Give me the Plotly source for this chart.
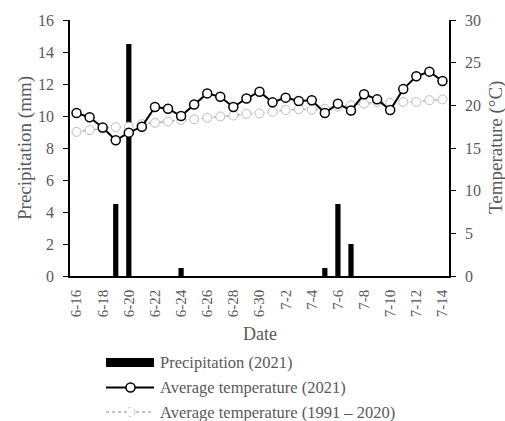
import plotly.graph_objects as go

dates = [f"6-{d}" for d in range(16, 31)] + [f"7-{d}" for d in range(1, 15)]
precip_2021 = [0, 0, 0, 4.5, 14.5, 0, 0, 0, 0.5, 0, 0, 0, 0, 0, 0,
               0, 0, 0, 0, 0.5, 4.5, 2.0, 0, 0, 0, 0, 0, 0, 0]
temp_2021 = [19.1, 18.6, 17.4, 15.9, 16.8, 17.5, 19.8, 19.6, 18.75, 20.1,
             21.4, 21.0, 19.8, 20.8, 21.6, 20.35, 20.9, 20.5, 20.6, 19.1,
             20.2, 19.4, 21.3, 20.7, 19.45, 21.9, 23.4, 23.95, 22.85]
temp_normal = [16.9, 17.1, 17.25, 17.45, 17.5, 17.8, 17.95, 18.1, 18.3, 18.35,
               18.55, 18.7, 18.8, 19.0, 19.05, 19.25, 19.45, 19.55, 19.5, 19.6,
               19.85, 20.0, 20.2, 20.4, 20.3, 20.4, 20.4, 20.6, 20.7]
tick_labels = dates[::2]
legend_labels = ["Precipitation (2021)", "Average temperature (2021)",
                 "Average temperature (1991 \u2013 2020)"]

FONT = "Liberation Serif"
GREY = "#595959"
W, H = 505, 421
L, R, T, B = 70, 56, 20, 145
PW, PH = W - L - R, H - T - B


def px(x):
    return (x - L) / PW


def py(y):
    return (H - B - y) / PH


fig = go.Figure()
fig.add_trace(go.Bar(x=dates, y=precip_2021, width=0.4, marker_color="black",
                     marker_line_width=0, name=legend_labels[0], showlegend=False))
fig.add_trace(go.Scatter(x=dates, y=temp_normal, yaxis="y2", mode="lines+markers",
                         line=dict(color="#b3b3b3", width=1.5, dash="dot"),
                         marker=dict(symbol="circle", size=9, color="white",
                                     line=dict(color="#bdbdbd", width=1)),
                         name=legend_labels[2], showlegend=False))
fig.add_trace(go.Scatter(x=dates, y=temp_2021, yaxis="y2", mode="lines+markers",
                         line=dict(color="black", width=2),
                         marker=dict(symbol="circle", size=9, color="white",
                                     line=dict(color="black", width=1.5)),
                         name=legend_labels[1], showlegend=False))

# manual legend
shapes = []
annotations = []
rows = [362.5, 387.5, 412]
shapes.append(dict(type="rect", xref="paper", yref="paper", x0=px(106), x1=px(154),
                   y0=py(367), y1=py(358), fillcolor="black", line_width=0))
shapes.append(dict(type="line", xref="paper", yref="paper", x0=px(106), x1=px(154),
                   y0=py(rows[1]), y1=py(rows[1]), line=dict(color="black", width=2)))
shapes.append(dict(type="circle", xref="paper", yref="paper", x0=px(126), x1=px(135),
                   y0=py(rows[1] + 4.5), y1=py(rows[1] - 4.5), fillcolor="white",
                   line=dict(color="black", width=1.5)))
shapes.append(dict(type="line", xref="paper", yref="paper", x0=px(106), x1=px(154),
                   y0=py(rows[2]), y1=py(rows[2]), line=dict(color="#b3b3b3", width=1.5, dash="dot")))
shapes.append(dict(type="circle", xref="paper", yref="paper", x0=px(126), x1=px(135),
                   y0=py(rows[2] + 4.5), y1=py(rows[2] - 4.5), fillcolor="white",
                   line=dict(color="#bdbdbd", width=1, dash="dot")))
for lab, r in zip(legend_labels, rows):
    annotations.append(dict(text=lab, xref="paper", yref="paper", x=px(158), y=py(r),
                            xanchor="left", yanchor="middle", showarrow=False,
                            font=dict(family=FONT, size=16.5, color=GREY)))

# axis titles
annotations.append(dict(text="Precipitation (mm)", xref="paper", yref="paper",
                        x=px(25), y=0.5, textangle=-90, showarrow=False,
                        xanchor="center", yanchor="middle",
                        font=dict(family=FONT, size=19, color=GREY)))
annotations.append(dict(text="Temperature (\u00b0C)", xref="paper", yref="paper",
                        x=px(496), y=0.5, textangle=-90, showarrow=False,
                        xanchor="center", yanchor="middle",
                        font=dict(family=FONT, size=19, color=GREY)))
annotations.append(dict(text="Date", xref="paper", yref="paper",
                        x=0.5, y=py(334), showarrow=False,
                        xanchor="center", yanchor="middle",
                        font=dict(family=FONT, size=18, color=GREY)))

fig.update_layout(
    width=W, height=H,
    margin=dict(l=L, r=R, t=T, b=B, autoexpand=False),
    paper_bgcolor="white", plot_bgcolor="white",
    font=dict(family=FONT, color=GREY),
    bargap=0.6,
    shapes=shapes, annotations=annotations,
    xaxis=dict(type="category", range=[-0.5, len(dates) - 0.5],
               tickmode="array", tickvals=tick_labels, ticktext=tick_labels,
               tickangle=-90, ticks="", showline=True, linecolor="black", linewidth=1.5,
               showgrid=False, zeroline=False, ticklabelstandoff=6,
               tickfont=dict(family=FONT, size=15, color=GREY)),
    yaxis=dict(range=[0, 16], dtick=2, tick0=0, showline=True, linecolor="black",
               linewidth=1.5, ticks="outside", ticklen=5, tickcolor="black", tickwidth=1,
               showgrid=False, zeroline=False, ticklabelstandoff=6,
               tickfont=dict(family=FONT, size=16, color=GREY)),
    yaxis2=dict(range=[0, 30], dtick=5, tick0=0, overlaying="y", side="right",
                showline=True, linecolor="black", linewidth=1.5, ticks="outside",
                ticklen=5, tickcolor="black", tickwidth=1, showgrid=False, zeroline=False,
                ticklabelstandoff=6,
                tickfont=dict(family=FONT, size=16, color=GREY)),
)

fig.write_html("out.html")
